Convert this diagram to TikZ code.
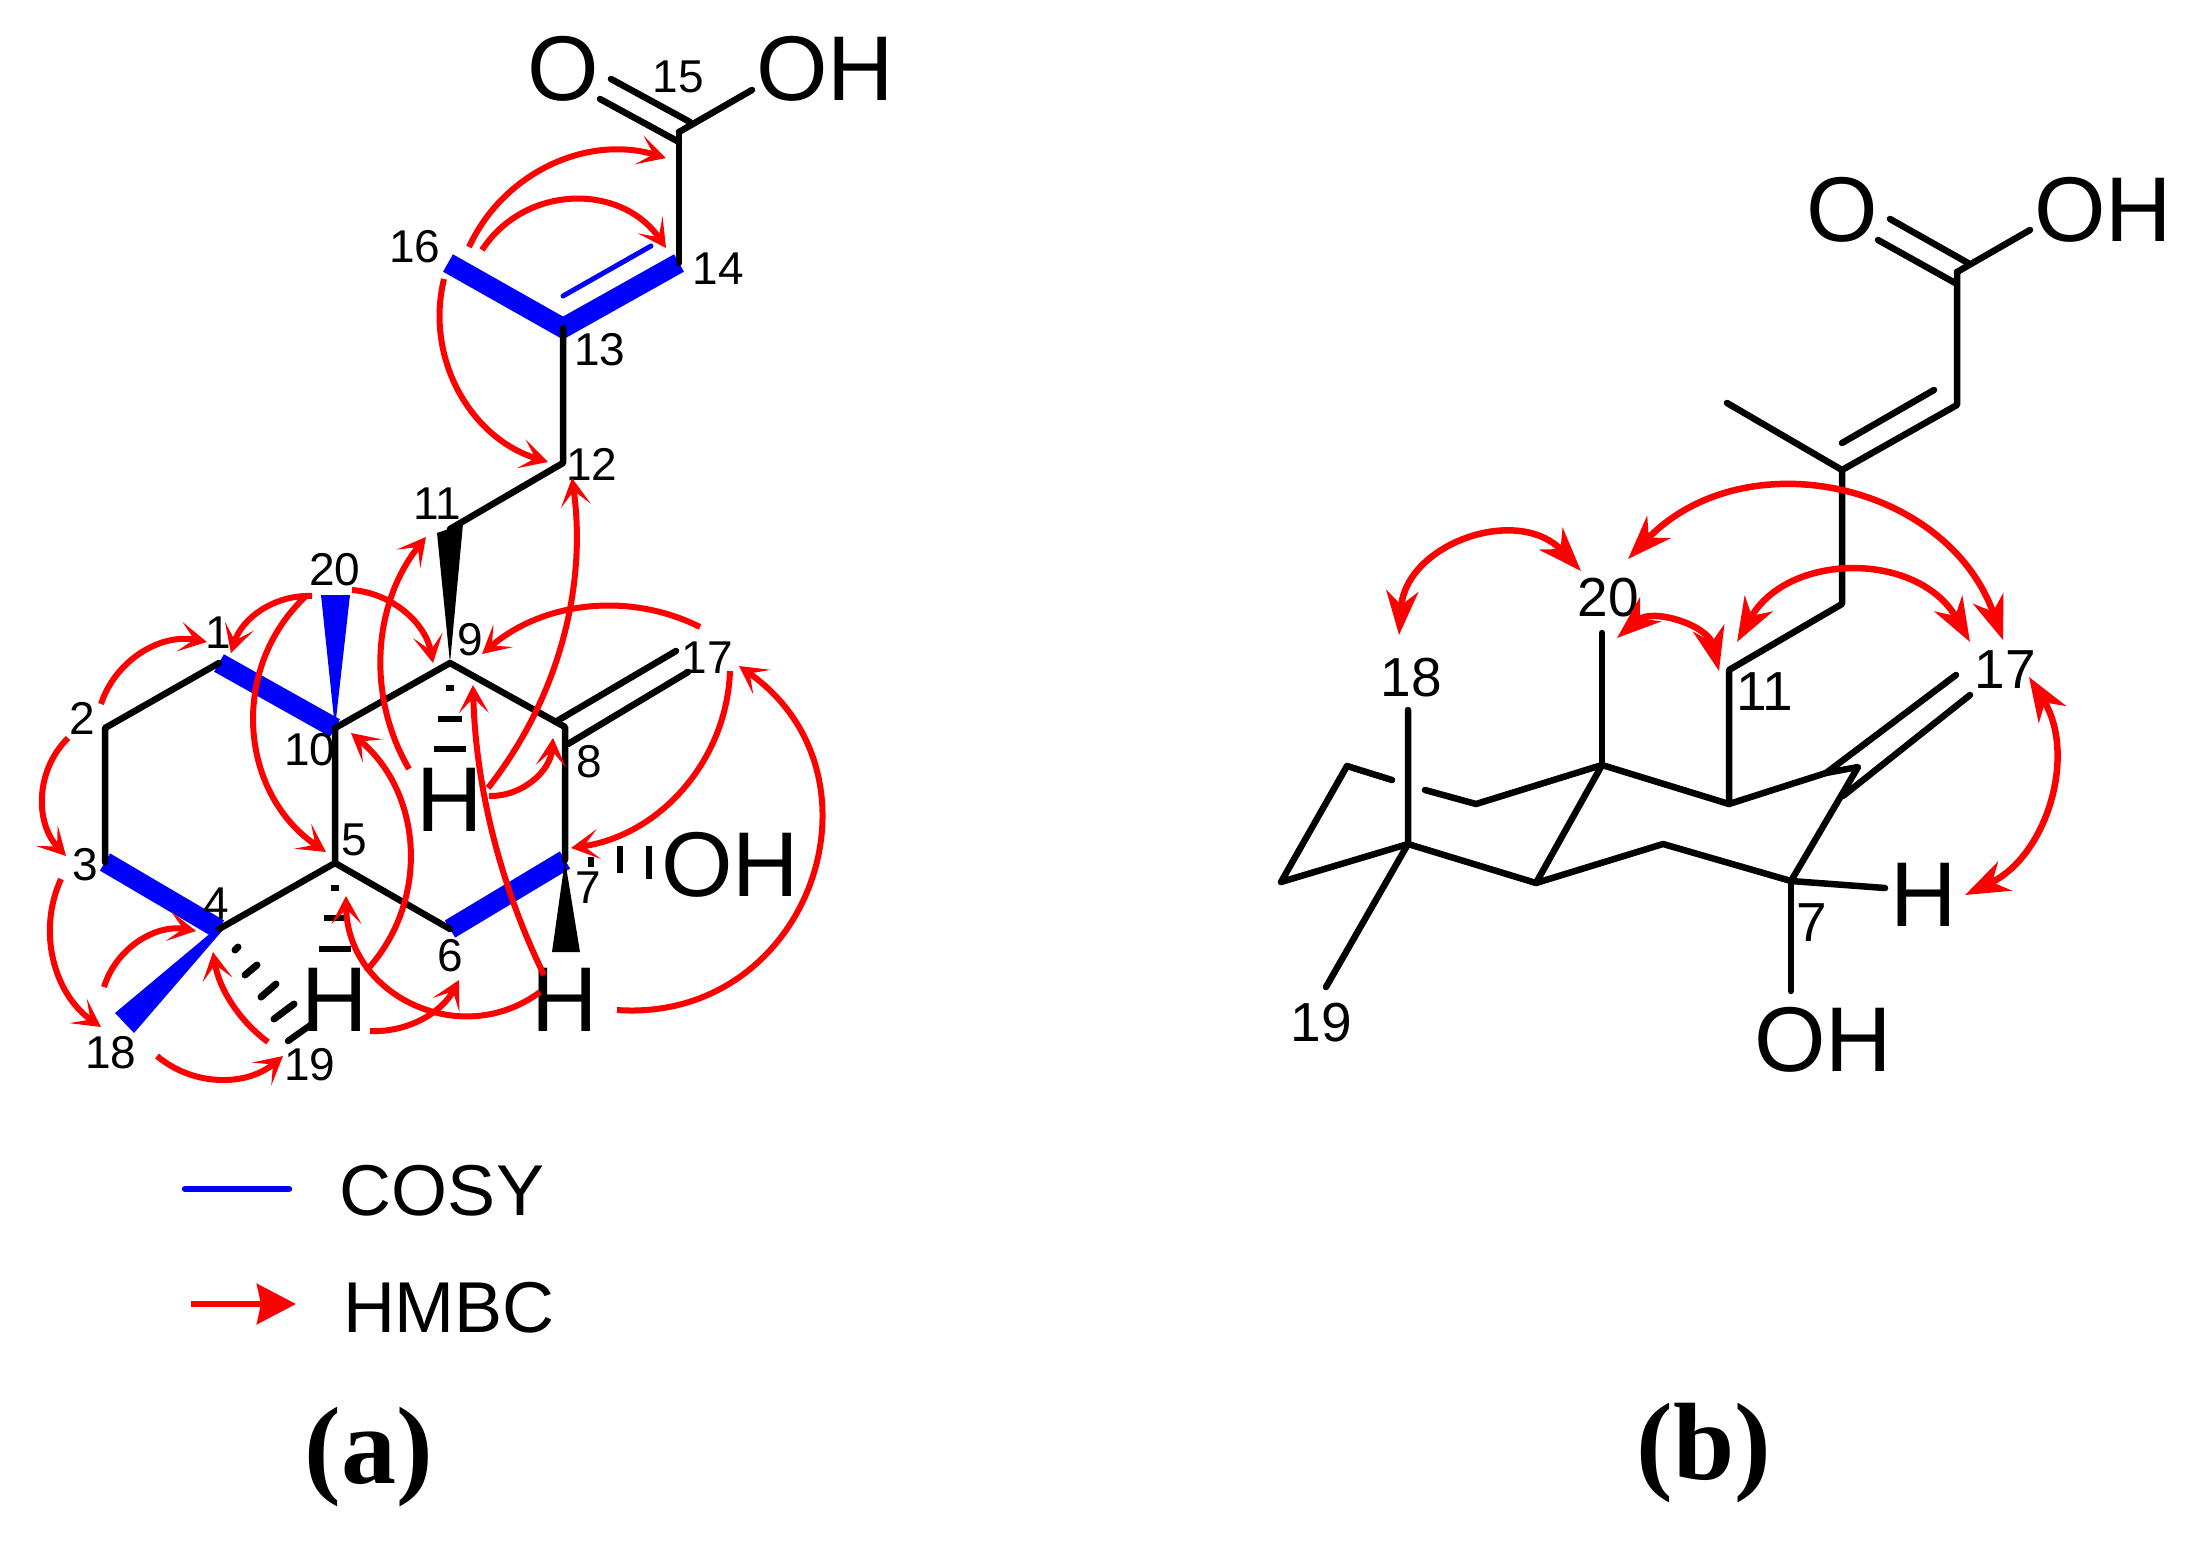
\documentclass[tikz,border=0pt]{standalone}
\usepackage{fontspec}
\setmainfont{Liberation Sans}
\newfontfamily\capfont{Liberation Serif}
\usetikzlibrary{arrows.meta,calc}

\definecolor{cosy}{rgb}{0,0,1}
\definecolor{hmbc}{rgb}{1,0,0}

\tikzset{
  bond/.style={black, line width=6.5pt, line cap=round, line join=round},
  cosyband/.style={cosy, line width=20pt, line join=miter},
  hmbcarc/.style={hmbc, line width=6pt, -{Stealth[length=28pt,width=30pt,inset=15pt]}},
  noearc/.style={hmbc, line width=6.5pt, {Stealth[length=44pt,width=32pt,inset=14pt]}-{Stealth[length=44pt,width=32pt,inset=14pt]}},
  num/.style={inner sep=0pt, font=\fontsize{46}{46}\selectfont},
  numb/.style={inner sep=0pt, font=\fontsize{55}{55}\selectfont},
  atom/.style={inner sep=0pt, font=\fontsize{92}{92}\selectfont},
  captext/.style={inner sep=0pt, font=\capfont\bfseries\fontsize{110}{110}\selectfont},
  legendtext/.style={inner sep=0pt, font=\fontsize{72}{72}\selectfont},
}

% circular arc from start through middle to end
\newcommand{\bentarc}[5]{
  \coordinate (#2s) at (#3);
  \coordinate (#2m) at (#4);
  \coordinate (#2e) at (#5);
  \draw[#1] let \p1=($(#2m)-(#2s)$), \p2=($(#2e)-(#2m)$),
    \n1={scalar(Mod(atan2(\y1,\x1)-atan2(\y2,\x2)+180,360)-180)},
    \n2={scalar(1/(3*cos(\n1/2)^2))}, \n3={scalar(-\n1)} in
    (#2s) .. controls ($(#2s)!\n2!\n1:(#2e)$) and ($(#2e)!\n2!\n3:(#2s)$) .. (#2e);
}

\begin{document}
\begin{tikzpicture}[x=1pt, y=-1pt]
  \useasboundingbox (0,0) rectangle (2196,1542);

  % structure (a), atoms
  \coordinate (a1) at (219,663);
  \coordinate (a2) at (105,728);
  \coordinate (a3) at (105,862);
  \coordinate (a4) at (219,929);
  \coordinate (a5) at (335,863);
  \coordinate (a6) at (450,929);
  \coordinate (a7) at (565,860);
  \coordinate (a8) at (565,727);
  \coordinate (a9) at (450,663);
  \coordinate (a10) at (335,728);
  \coordinate (a11) at (450,529);
  \coordinate (a12) at (563,463);
  \coordinate (a13) at (563,328);
  \coordinate (a14) at (679,263);
  \coordinate (a15) at (679,132);
  \coordinate (a16) at (448,263);
  \coordinate (a19a) at (312,1024);
  \coordinate (a19b) at (288,1041);

  \draw[cosyband] (a1) -- (a10);
  \draw[cosyband] (a3) -- (a4);
  \draw[cosyband] (a6) -- (a7);
  \draw[cosyband] (a16) -- (a13) -- (a14);
  \draw[cosy, line width=5pt, line cap=round] (563,296) -- (651,246);

  \fill[cosy] (a4) ++(0,-3) -- (115,1013) -- (134,1033) -- (222,931) -- cycle;
  \fill[cosy] (a10) -- (321,595) -- (350,595) -- cycle;

  \draw[bond] (a1) -- (a2) -- (a3);
  \draw[bond] (a4) -- (a5) -- (a10) -- (a9) -- (a8) -- (a7);
  \draw[bond] (a5) -- (a6);
  \draw[bond] (a11) -- (a12) -- (a13);
  \draw[bond] (a14) -- (a15);
  \draw[bond] (a15) -- (752,90);
  \draw[bond] (611,79) -- (690,122);
  \draw[bond] (600,99) -- (679,142);
  \draw[bond] (557,721) -- (676,651);
  \draw[bond] (568,744) -- (688,672);
  \draw[bond] (a19a) -- (a19b);

  \fill[black] (a9) -- (437,533) -- (463,524) -- cycle;
  \fill[black] (a7) -- (552,952) -- (580,952) -- cycle;

  % hashed bonds
  \fill[black] (446,685) rectangle (454,691);
  \fill[black] (438,716) rectangle (462,722);
  \fill[black] (434,746) rectangle (466,752);
  \fill[black] (331,885) rectangle (339,891);
  \fill[black] (324,915) rectangle (346,921);
  \fill[black] (319,946) rectangle (351,952);
  \fill[black] (588,857) rectangle (594,867);
  \fill[black] (617,846) rectangle (623,873);
  \fill[black] (646,846) rectangle (652,879);
  \draw[black, line width=7pt, line cap=round] (235,950) -- (238,947);
  \draw[black, line width=7pt, line cap=round] (245,975) -- (257,965);
  \draw[black, line width=7pt, line cap=round] (261,997) -- (276,984);
  \draw[black, line width=7pt, line cap=round] (274,1019) -- (294,1004);

  \node[num] (n1) at (218,633) {1};
  \node[num] (n2) at (82,718) {2};
  \node[num] (n3) at (85,865) {3};
  \node[num] (n4) at (216,904) {4};
  \node[num] (n5) at (354,840) {5};
  \node[num] (n6) at (450,956) {6};
  \node[num] (n7) at (588,888) {7};
  \node[num] (n8) at (589,762) {8};
  \node[num] (n9) at (470,640) {9};
  \node[num] (n10) at (310,750) {10};
  \node[num] (n11) at (437,504) {11};
  \node[num] (n12) at (592,464) {12};
  \node[num] (n13) at (600,350) {13};
  \node[num] (n14) at (718,269) {14};
  \node[num] (n15) at (678,77) {15};
  \node[num] (n16) at (415,247) {16};
  \node[num] (n17) at (707,658) {17};
  \node[num] (n18) at (111,1053) {18};
  \node[num] (n19) at (310,1065) {19};
  \node[num] (n20) at (335,570) {20};

  \node[atom] (o1) at (563,69) {O};
  \node[atom] (oh1) at (825,69) {OH};
  \node[atom] (oh7) at (730,865) {OH};
  \node[atom] (h9) at (450,800) {H};
  \node[atom] (h5) at (335,1000) {H};
  \node[atom] (h7) at (565,1000) {H};

  % HMBC
  \bentarc{hmbcarc}{k1}{101,704}{144,652}{207,642}
  \bentarc{hmbcarc}{k2}{68,738}{43,796}{66,856}
  \bentarc{hmbcarc}{k3}{61,879}{52,950}{101,1027}
  \bentarc{hmbcarc}{k4}{104,987}{133,946}{196,931}
  \bentarc{hmbcarc}{k5}{157,1056}{219,1079}{283,1056}
  \bentarc{hmbcarc}{k6}{268,1042}{228,996}{213,952}
  \bentarc{hmbcarc}{k7}{370,1031}{421,1019}{459,980}
  \bentarc{hmbcarc}{k8}{540,992}{430,1010}{346,896}
  \bentarc{hmbcarc}{k9}{544,975}{496,846}{473,685}
  \bentarc{hmbcarc}{k10}{617,1010}{785,930}{739,666}
  \bentarc{hmbcarc}{k11}{730,671}{692,777}{571,848}
  \bentarc{hmbcarc}{k12}{700,627}{612,606}{482,654}
  \bentarc{hmbcarc}{k13}{409,769}{381,662}{426,537}
  \bentarc{hmbcarc}{k14}{489,796}{531,781}{553,738}
  \bentarc{hmbcarc}{k15}{488,788}{568,615}{572,478}
  \bentarc{hmbcarc}{k16}{312,596}{260,612}{231,653}
  \bentarc{hmbcarc}{k17}{306,596}{254,719}{326,852}
  \bentarc{hmbcarc}{k18}{352,590}{404,612}{433,663}
  \bentarc{hmbcarc}{k19}{366,971}{410,858}{351,733}
  \bentarc{hmbcarc}{k20}{469,247}{542,170}{666,158}
  \bentarc{hmbcarc}{k21}{482,250}{569,200}{666,248}
  \bentarc{hmbcarc}{k22}{444,279}{465,400}{548,462}

  % legend
  \coordinate (cosya) at (185,1189);
  \coordinate (cosyb) at (289,1189);
  \coordinate (hmbca) at (191,1304);
  \coordinate (hmbcb) at (296,1304);
  \draw[cosy, line width=6.5pt, line cap=round] (cosya) -- (cosyb);
  \draw[hmbc, line width=6.5pt, -{Stealth[length=39pt,width=40pt,inset=4pt]}] (hmbca) -- (hmbcb);
  \node[legendtext] (cosyl) at (442,1191) {COSY};
  \node[legendtext] (hmbcl) at (449,1308) {HMBC};
  \node[captext] (capa) at (369,1457) {(a)};
  \node[captext] (capb) at (1704,1453) {(b)};

  % structure (b), atoms
  \coordinate (b1) at (1476,804);
  \coordinate (b2) at (1425,790);
  \coordinate (b2b) at (1392,780);
  \coordinate (b3) at (1347,766);
  \coordinate (b3b) at (1281,882);
  \coordinate (b4) at (1408,844);
  \coordinate (b5) at (1536,883);
  \coordinate (b6) at (1663,844);
  \coordinate (b7) at (1791,881);
  \coordinate (b8) at (1858,767);
  \coordinate (b8a) at (1826,773);
  \coordinate (b9) at (1729,804);
  \coordinate (b10) at (1602,765);
  \coordinate (b11) at (1729,670);
  \coordinate (b12) at (1842,604);
  \coordinate (b13) at (1842,470);
  \coordinate (b14) at (1957,405);
  \coordinate (b15) at (1957,272);
  \coordinate (b16) at (1727,403);
  \coordinate (b18) at (1408,710);
  \coordinate (b19) at (1326,987);
  \coordinate (b20) at (1602,633);
  \coordinate (bh) at (1885,888);
  \coordinate (boh) at (1791,991);

  \draw[bond] (b2) -- (b1) -- (b10) -- (b9) -- (b8a) -- (b8) -- (b7) -- (b6) -- (b5) -- (b4) -- (b3b) -- (b3) -- (b2b);
  \draw[bond] (b10) -- (b5);
  \draw[bond] (b20) -- (b10);
  \draw[bond] (b18) -- (b4) -- (b19);
  \draw[bond] (b9) -- (b11) -- (b12) -- (b13) -- (b14) -- (b15);
  \draw[bond] (b13) -- (b16);
  \draw[bond] (1842,443) -- (1934,390);
  \draw[bond] (b7) -- (bh);
  \draw[bond] (b7) -- (boh);
  \draw[bond] (1826,773) -- (1956,675);
  \draw[bond] (1843,796) -- (1970,695);
  \draw[bond] (b15) -- (2030,230);
  \draw[bond] (1890,219) -- (1968,263);
  \draw[bond] (1878,240) -- (1957,284);

  \node[numb] (m7) at (1812,923) {7};
  \node[numb] (m11) at (1765,692) {11};
  \node[numb] (m17) at (2005,670) {17};
  \node[numb] (m18) at (1411,678) {18};
  \node[numb] (m19) at (1321,1023) {19};
  \node[numb] (m20) at (1608,598) {20};
  \node[atom] (mh) at (1924,895) {H};
  \node[atom] (moh) at (1823,1040) {OH};
  \node[atom] (mo1) at (1842,210) {O};
  \node[atom] (moh1) at (2103,210) {OH};

  % NOESY
  \bentarc{noearc}{q1}{1399,635}{1494,538}{1581,571}
  \bentarc{noearc}{q2}{1628,559}{1789,490}{2003,640}
  \bentarc{noearc}{q3}{1617,638}{1662,623}{1719,671}
  \bentarc{noearc}{q4}{1737,642}{1852,574}{1970,642}
  \bentarc{noearc}{q5}{2029,677}{2052,762}{1965,895}
\end{tikzpicture}
\end{document}
